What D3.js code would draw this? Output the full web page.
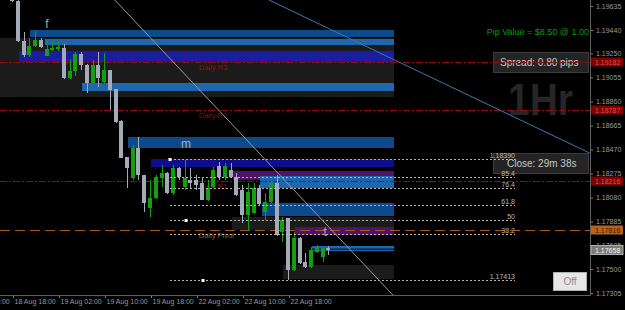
<!DOCTYPE html>
<html>
<head>
<meta charset="utf-8">
<script src="https://cdn.jsdelivr.net/npm/d3@7"></script>
<style>
  body { margin: 0; background: #000; }
  svg { display: block; }
  text { font-family: "Liberation Sans", Arial, sans-serif; }
</style>
</head>
<body>
<div id="chart"></div>
<script>
var width = 625,
    height = 310,
    plotW = 590,
    plotH = 295;

// hourly EURUSD candles, bar 0 = 18 Aug 18:00
var openP = [1.19887,1.19676,1.19351,1.19237,1.19310,1.19359,1.19229,1.19278,1.19286,1.19294,
  1.19050,1.19107,1.19245,1.19156,1.19010,1.19156,1.19018,1.19115,1.18961,1.18701,
  1.18408,1.18238,1.18481,1.18262,1.17994,1.18075,1.18238,1.18278,1.18116,1.18319,
  1.18165,1.18221,1.18221,1.18197,1.18059,1.18165,1.18335,1.18246,1.18303,1.18246,
  1.18140,1.17937,1.17953,1.18156,1.17961,1.18043,1.18197,1.17799,1.17913,1.17490,
  1.17750,1.17555,1.17515,1.17636,1.17596,1.17669];
var highP = [1.19928,1.19700,1.19424,1.19375,1.19432,1.19375,1.19351,1.19343,1.19351,1.19326,
  1.19205,1.19261,1.19261,1.19164,1.19196,1.19261,1.19253,1.19115,1.18961,1.18709,
  1.18408,1.18506,1.18571,1.18262,1.18221,1.18262,1.18343,1.18286,1.18343,1.18327,
  1.18384,1.18319,1.18262,1.18246,1.18221,1.18327,1.18368,1.18360,1.18360,1.18278,
  1.18181,1.18197,1.18197,1.18181,1.18116,1.18205,1.18262,1.17921,1.17913,1.17799,
  1.17758,1.17628,1.17677,1.17693,1.17669,1.17685];
var lowP = [1.19668,1.19343,1.19221,1.19221,1.19302,1.19294,1.19229,1.19270,1.19270,1.19042,
  1.19042,1.19066,1.19115,1.18928,1.19010,1.18977,1.19010,1.18790,1.18685,1.18400,
  1.18156,1.18221,1.18221,1.17961,1.17921,1.18067,1.18165,1.18108,1.18100,1.18221,
  1.18140,1.18156,1.18140,1.18059,1.18051,1.18156,1.18221,1.18221,1.18238,1.18091,
  1.17872,1.17815,1.17945,1.18018,1.17896,1.18035,1.17766,1.17718,1.17413,1.17482,
  1.17539,1.17506,1.17506,1.17628,1.17555,1.17612];
var closeP = [1.19676,1.19351,1.19237,1.19310,1.19359,1.19302,1.19286,1.19294,1.19302,1.19050,
  1.19107,1.19245,1.19156,1.19010,1.19156,1.19050,1.19115,1.18953,1.18693,1.18400,
  1.18319,1.18481,1.18262,1.18035,1.18075,1.18246,1.18278,1.18116,1.18319,1.18246,
  1.18238,1.18197,1.18181,1.18059,1.18156,1.18303,1.18246,1.18335,1.18246,1.18100,
  1.17937,1.18124,1.18156,1.18026,1.18043,1.18197,1.17775,1.17896,1.17490,1.17750,
  1.17547,1.17515,1.17653,1.17677,1.17669,1.17658];

var timeTicks = [-8, 0, 8, 16, 24, 32, 40, 48];
var timeLabels = ["18 Aug 10:00", "18 Aug 18:00", "19 Aug 02:00", "19 Aug 10:00",
  "19 Aug 18:00", "22 Aug 02:00", "22 Aug 10:00", "22 Aug 18:00"];
var priceTicks = [1.19635, 1.19440, 1.19250, 1.19055, 1.18860, 1.18665, 1.18470,
  1.18275, 1.18080, 1.17885, 1.17695, 1.17500, 1.17305];

var pivotNames = ["Daily R3", "Daily R2", "Daily R1", "Daily Pivot"];
var pivotPrices = [1.19182, 1.18787, 1.18216, 1.17816];

// supply / demand zones
var zoneKind   = ["gray","gray","gray","dark","light","indigo","light","dark","navy","purple","light","dark","purple","split"];
var zoneStart  = [-5, 38, 47, 3, 5.6, 1, 12, 20, 24, 38.3, 43, 43.3, 49, 52];
var zoneTop    = [1.19375,1.17921,1.17531,1.19440,1.19367,1.19270,1.19010,1.18571,1.18392,1.18295,1.18254,1.18035,1.17840,1.17685];
var zoneBottom = [1.18896,1.17815,1.17417,1.19383,1.19318,1.19180,1.18945,1.18482,1.18327,1.18221,1.18157,1.17929,1.17775,1.17643];
var zoneEnd = 66.3;

var zoneTags = ["f", "m", "t"];
var zoneTagBar = [5.9, 30.1, 54.3];
var zoneTagPrice = [1.19490, 1.18520, 1.17800];

var fibHigh = 1.18390, fibLow = 1.17413;
var fibLevels = [100, 85.4, 76.4, 61.8, 50, 38.2, 0];
var fibStart = 27.3, fibEnd = 87.3;
var fibMarkBar = [27.3, 30.1, 33.0];
var fibMarkLevel = [100, 50, 0];

var trendGray = [[17.7, 1.19684], [66.1, 1.17287]];
var trendBlue = [[44.5, 1.19684], [100.3, 1.18441]];

var lastPrice = 1.17658;

var zoneColor = {gray: "#1b1b1b", dark: "#0c4a8c", light: "#1e66ad", indigo: "#1c1c9e",
  navy: "#0d0d8f", purple: "#4f1466", split: "#1e66ad"};

var svg = d3.select("#chart").append("svg")
    .attr("width", width)
    .attr("height", height);

svg.append("rect").attr("width", width).attr("height", height).attr("fill", "#000");

var x = d3.scaleLinear().domain([0, 48]).range([13, 289]);
var y = d3.scaleLinear().domain([1.17305, 1.19635]).range([293, 6]);

// info panels (under the chart objects)
svg.append("text")
  .attr("x", 589).attr("y", 34.5)
  .attr("text-anchor", "end")
  .attr("font-size", "9px")
  .attr("fill", "#0a9a0a")
  .text("Pip Value = $8.50 @ 1.00");

svg.append("rect").attr("x", 493.5).attr("y", 52.5).attr("width", 95).attr("height", 20)
  .attr("fill", "#242424").attr("stroke", "#3c3c3c");
svg.append("text").attr("x", 500).attr("y", 66).attr("font-size", "10px").attr("fill", "#c8c8c8")
  .text("Spread: 0.80 pips");

svg.append("text")
  .attr("x", 508).attr("y", 115)
  .attr("font-size", "44px").attr("font-weight", "bold")
  .attr("textLength", 65).attr("lengthAdjust", "spacingAndGlyphs")
  .attr("fill", "#262626")
  .text("1Hr");

svg.append("rect").attr("x", 493.5).attr("y", 153.5).attr("width", 95).attr("height", 20)
  .attr("fill", "#242424").attr("stroke", "#3c3c3c");
svg.append("text").attr("x", 507).attr("y", 167).attr("font-size", "10px").attr("fill", "#c8c8c8")
  .text("Close: 29m 38s");

svg.append("defs").append("clipPath").attr("id", "plot")
  .append("rect").attr("width", plotW).attr("height", plotH);

var plot = svg.append("g").attr("clip-path", "url(#plot)");

// zones
var zones = zoneKind.map(function(k, i) {
  return {kind: k, start: zoneStart[i], top: zoneTop[i], bottom: zoneBottom[i]};
});
plot.selectAll("rect.zone")
    .data(zones)
  .enter().append("rect")
    .attr("class", "zone")
    .attr("x", function(d) { return Math.round(x(d.start)); })
    .attr("width", function(d) { return Math.round(x(zoneEnd)) - Math.round(x(d.start)); })
    .attr("y", function(d) { return Math.round(y(d.top)); })
    .attr("height", function(d) { return Math.round(y(d.bottom)) - Math.round(y(d.top)); })
    .attr("fill", function(d) { return zoneColor[d.kind]; });
zones.filter(function(d) { return d.kind == "split"; }).forEach(function(d) {
  plot.append("rect")
    .attr("x", Math.round(x(d.start)))
    .attr("width", Math.round(x(zoneEnd)) - Math.round(x(d.start)))
    .attr("y", Math.round((y(d.top) + y(d.bottom)) / 2) - 0.5)
    .attr("height", 1.5)
    .attr("fill", "#06203f");
});

// pivot lines
pivotPrices.forEach(function(p, i) {
  var isPivot = i == 3;
  plot.append("line")
    .attr("x1", 0).attr("x2", plotW)
    .attr("y1", Math.round(y(p)) + 0.5).attr("y2", Math.round(y(p)) + 0.5)
    .attr("stroke", isPivot ? "#a8561c" : "#9b0a0a")
    .attr("stroke-dasharray", isPivot ? "10,5" : "7,2,2,2");
  plot.append("text")
    .attr("x", x(32.3))
    .attr("y", y(p) + 8)
    .attr("font-size", "7.5px")
    .attr("fill", isPivot ? "#a8561c" : "#9b0a0a")
    .text(pivotNames[i]);
});

// candles
var candles = openP.map(function(o, i) {
  return {i: i, o: o, h: highP[i], l: lowP[i], c: closeP[i]};
});
var cg = plot.append("g").attr("shape-rendering", "crispEdges");
cg.selectAll("rect.wick")
    .data(candles)
  .enter().append("rect")
    .attr("class", "wick")
    .attr("x", function(d) { return Math.round(x(d.i)) - 1; })
    .attr("width", 1)
    .attr("y", function(d) { return y(d.h); })
    .attr("height", function(d) { return y(d.l) - y(d.h); })
    .attr("fill", function(d) { return d.c > d.o ? "#12a012" : "#a3abb8"; });
cg.selectAll("rect.body")
    .data(candles)
  .enter().append("rect")
    .attr("class", "body")
    .attr("x", function(d) { return Math.round(x(d.i)) - 3; })
    .attr("width", 4)
    .attr("y", function(d) { return y(Math.max(d.o, d.c)); })
    .attr("height", function(d) { return Math.max(1, Math.abs(y(d.o) - y(d.c))); })
    .attr("fill", function(d) { return d.c > d.o ? "#12a012" : "#a3abb8"; });

// zone tags
zoneTags.forEach(function(t, i) {
  plot.append("text")
    .attr("x", x(zoneTagBar[i]))
    .attr("y", y(zoneTagPrice[i]))
    .attr("text-anchor", "middle")
    .attr("dy", "0.35em")
    .attr("font-size", "12px")
    .attr("fill", "#a8acb4")
    .text(t);
});

// fibonacci
function fibPrice(l) { return fibLow + (fibHigh - fibLow) * l / 100; }
fibLevels.forEach(function(l) {
  var yy = Math.round(y(fibPrice(l))) + 0.5;
  plot.append("line")
    .attr("x1", x(fibStart)).attr("x2", x(fibEnd))
    .attr("y1", yy).attr("y2", yy)
    .attr("stroke", "#b8b8b8")
    .attr("stroke-dasharray", "2,2");
  plot.append("text")
    .attr("x", x(fibEnd))
    .attr("y", yy - 1.5)
    .attr("text-anchor", "end")
    .attr("font-size", "7px")
    .attr("fill", "#b8b8b8")
    .text(l == 100 ? d3.format(".5f")(fibHigh) : l == 0 ? d3.format(".5f")(fibLow) : l);
});
fibMarkBar.forEach(function(b, i) {
  plot.append("rect")
    .attr("x", Math.round(x(b)) - 1.5)
    .attr("y", Math.round(y(fibPrice(fibMarkLevel[i]))) - 1)
    .attr("width", 3).attr("height", 3)
    .attr("fill", "#fff");
});

// trend lines
var line = d3.line()
    .x(function(d) { return x(d[0]); })
    .y(function(d) { return y(d[1]); });
plot.append("path").attr("d", line(trendGray)).attr("stroke", "#9a9a9a").attr("fill", "none");
plot.append("path").attr("d", line(trendBlue)).attr("stroke", "#3b78b5").attr("fill", "none");

svg.append("rect").attr("x", 553.5).attr("y", 272.5).attr("width", 33).attr("height", 18)
  .attr("fill", "#e6e6e6").attr("stroke", "#b0b0b0");
svg.append("text").attr("x", 570).attr("y", 285).attr("text-anchor", "middle")
  .attr("font-size", "10px").attr("fill", "#8a8a8a").text("Off");

// axes
var yAxis = d3.axisRight(y)
    .tickValues(priceTicks)
    .tickFormat(d3.format(".5f"))
    .tickSize(3)
    .tickPadding(3);
var gy = svg.append("g").attr("transform", "translate(" + plotW + ",0)").call(yAxis);
gy.select(".domain").remove();
gy.selectAll("line").attr("stroke", "#808080");
gy.selectAll("text").attr("fill", "#9a9a9a").attr("font-size", "7px")
  .attr("font-family", "Liberation Sans, Arial, sans-serif");

var xAxis = d3.axisBottom(x)
    .tickValues(timeTicks)
    .tickFormat(function(d, i) { return timeLabels[i]; })
    .tickSize(3)
    .tickPadding(1);
var gx = svg.append("g").attr("transform", "translate(0," + plotH + ")").call(xAxis);
gx.select(".domain").remove();
gx.selectAll("line").attr("stroke", "#808080");
gx.selectAll("text").attr("fill", "#9a9a9a").attr("font-size", "7px")
  .attr("text-anchor", "start").attr("dx", 1)
  .attr("font-family", "Liberation Sans, Arial, sans-serif");

svg.append("line").attr("x1", 0).attr("x2", plotW + 0.5).attr("y1", plotH + 0.5).attr("y2", plotH + 0.5)
  .attr("stroke", "#606060");
svg.append("line").attr("x1", plotW + 0.5).attr("x2", plotW + 0.5).attr("y1", 0).attr("y2", plotH + 0.5)
  .attr("stroke", "#606060");

// price boxes on the right scale
var boxPrices = pivotPrices.concat([lastPrice]);
var boxFill = ["#800000", "#800000", "#800000", "#b8621b", "#7a7a7a"];
var boxText = ["#e05050", "#e05050", "#e05050", "#3a1a00", "#f4f4f4"];
boxPrices.forEach(function(p, i) {
  var yy = Math.round(y(p));
  svg.append("rect")
    .attr("x", plotW + 1).attr("y", yy - 4.5)
    .attr("width", 32).attr("height", 9)
    .attr("fill", boxFill[i])
    .attr("stroke", i == 4 ? "#b0b0b0" : "none");
  svg.append("text")
    .attr("x", plotW + 5).attr("y", yy + 2.5)
    .attr("font-size", "7px")
    .attr("fill", boxText[i])
    .text(d3.format(".5f")(p));
});
</script>
</body>
</html>
